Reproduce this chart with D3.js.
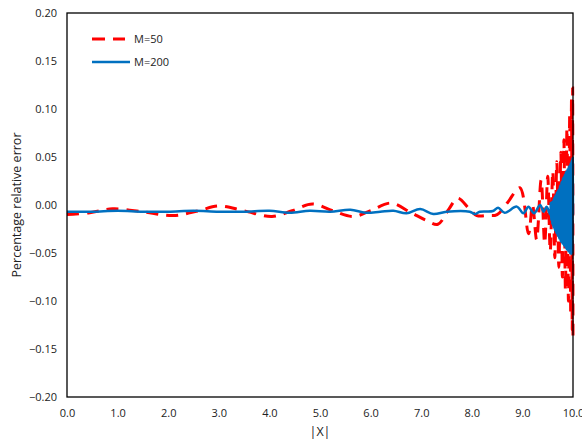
<!DOCTYPE html>
<html><head><meta charset="utf-8">
<script src="https://cdn.jsdelivr.net/npm/d3@7"></script>
<style>body{margin:0;background:#fff}svg{display:block}text{font-family:"Open Sans","Noto Sans",sans-serif;fill:#222}</style>
</head><body>
<svg id="c" width="582" height="444"></svg>
<script>
// ---- data ----
const xTicks = [0,1,2,3,4,5,6,7,8,9,10];
const yTicks = [-0.20,-0.15,-0.10,-0.05,0.00,0.05,0.10,0.15,0.20];
const seriesNames = ["M=50","M=200"];
const m50X = [0,0.45,0.9,1.5,2.1,2.6,3.0,3.5,4.05,4.45,4.85,5.25,5.65,6.0,6.4,6.8,7.1,7.33,7.55,7.72,7.95,8.1,8.3,8.5,8.7,8.95,9.12,9.2,9.28,9.37,9.44,9.5,9.55,9.6,9.64,9.68,9.72,9.76,9.79,9.82,9.85,9.88,9.91,9.935,9.955,9.97,9.985,9.993,10.0];
const m50Y = [-0.010,-0.008,-0.004,-0.007,-0.011,-0.006,-0.001,-0.006,-0.012,-0.006,0.001,-0.006,-0.012,-0.006,0.002,-0.008,-0.016,-0.020,-0.004,0.007,-0.004,-0.011,-0.011,-0.010,0.002,0.018,-0.030,0.000,-0.036,0.026,-0.040,0.030,-0.048,0.035,-0.055,0.045,-0.065,0.055,-0.075,0.068,-0.088,0.080,-0.100,0.095,-0.115,0.110,-0.130,0.122,-0.137];
const m200X = [0,0.5,1.0,1.5,2.0,2.5,3.0,3.5,4.0,4.4,4.8,5.2,5.6,5.9,6.19,6.45,6.71,6.98,7.24,7.5,7.96,8.06,8.16,8.42,8.52,8.65,8.89,9.02,9.12,9.23,9.35,9.42,9.48,9.55,9.56,9.57,9.58,9.59,9.60,9.61,9.62,9.635,9.65,9.665,9.68,9.695,9.71,9.725,9.74,9.755,9.77,9.785,9.80,9.815,9.83,9.845,9.86,9.875,9.89,9.905,9.92,9.935,9.95,9.965,9.975,9.985,9.993,10.0];
const m200Y = [-0.007,-0.007,-0.006,-0.007,-0.007,-0.006,-0.007,-0.007,-0.006,-0.008,-0.006,-0.007,-0.005,-0.008,-0.007,-0.006,-0.0087,-0.0042,-0.0094,-0.007,-0.007,-0.0094,-0.007,-0.0063,-0.0028,-0.008,-0.0017,-0.0087,-0.0017,-0.0087,0.000,-0.007,-0.0017,-0.010,0.002,-0.016,0.003,-0.020,0.004,-0.023,0.007,-0.026,0.010,-0.029,0.013,-0.032,0.016,-0.035,0.020,-0.038,0.024,-0.040,0.028,-0.042,0.031,-0.044,0.034,-0.046,0.037,-0.048,0.040,-0.050,0.043,-0.051,0.046,-0.050,0.049,-0.010];

// ---- layout ----
const L=67, R=573, T=13, B=397;
const svg = d3.select("#c");
const x = d3.scaleLinear().domain([0,10]).range([L,R]);
const y = d3.scaleLinear().domain([-0.2,0.2]).range([B,T]);

const xAxis = svg.append("g").attr("transform",`translate(0,${B})`)
  .call(d3.axisBottom(x).tickValues(xTicks).tickSize(0).tickPadding(12).tickFormat(d3.format(".1f")));
xAxis.select(".domain").remove();
xAxis.selectAll("text").attr("font-size","11px").style("font-family","'Open Sans',sans-serif").attr("fill","#222");

const yAxis = svg.append("g").attr("transform",`translate(${L},0)`)
  .call(d3.axisLeft(y).tickValues(yTicks).tickSize(0).tickPadding(10).tickFormat(d3.format(".2f")));
yAxis.select(".domain").remove();
yAxis.selectAll("text").attr("font-size","11px").style("font-family","'Open Sans',sans-serif").attr("fill","#222");

const line = d3.line().x(d=>x(d[0])).y(d=>y(d[1])).curve(d3.curveCatmullRom.alpha(0.5));
const d50 = m50X.map((v,i)=>[v,m50Y[i]]);
const d200 = m200X.map((v,i)=>[v,m200Y[i]]);

svg.append("path").attr("d",line(d50)).attr("fill","none").attr("stroke","#ff0000").attr("stroke-width",3).attr("stroke-dasharray","12,8");
svg.append("path").attr("d",line(d200)).attr("fill","none").attr("stroke","#0070c0").attr("stroke-width",2.5);

svg.append("rect").attr("x",L).attr("y",T).attr("width",R-L).attr("height",B-T)
  .attr("fill","none").attr("stroke","#000").attr("stroke-width",1.3);

// legend
const lg = svg.append("g");
lg.append("line").attr("x1",92).attr("x2",125).attr("y1",39).attr("y2",39).attr("stroke","#ff0000").attr("stroke-width",3).attr("stroke-dasharray","13,8");
lg.append("line").attr("x1",92).attr("x2",130).attr("y1",62).attr("y2",62).attr("stroke","#0070c0").attr("stroke-width",2.5);
lg.append("text").attr("x",134).attr("y",43).attr("font-size","11px").text(seriesNames[0]);
lg.append("text").attr("x",134).attr("y",66).attr("font-size","11px").text(seriesNames[1]);

svg.append("text").attr("transform","translate(21,205) rotate(-90)").attr("text-anchor","middle").attr("font-size","12.5px").text("Percentage relative error");
svg.append("text").attr("x",320).attr("y",436).attr("text-anchor","middle").attr("font-size","12.5px").text("|X|");
</script>
</body></html>
